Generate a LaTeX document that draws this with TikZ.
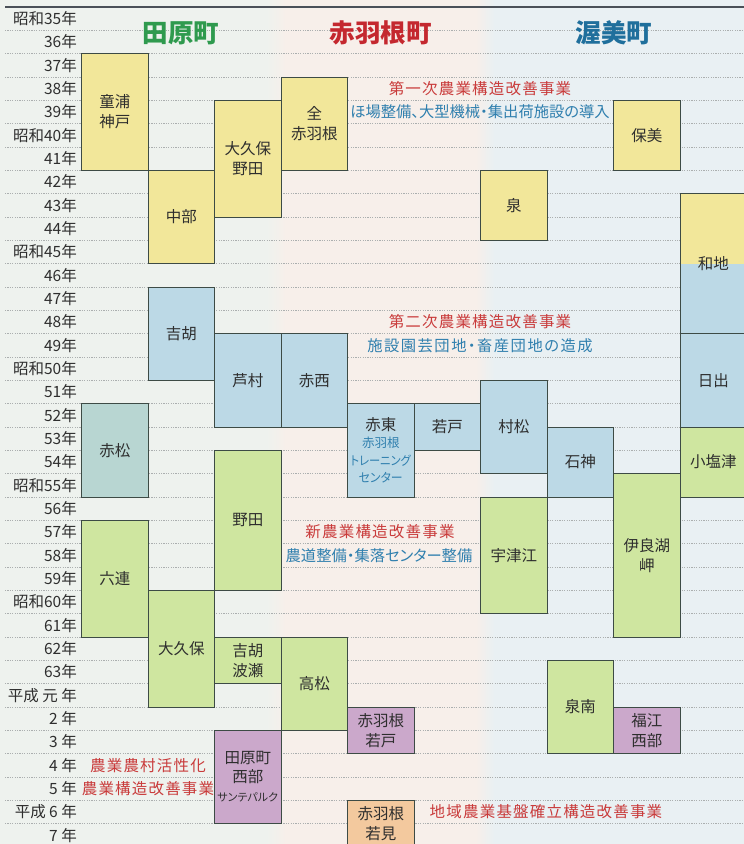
\documentclass[tikz,border=0pt]{standalone}
\usepackage{fontspec}
\usepackage{graphicx}
\setmainfont{Noto Sans CJK JP}
\newfontfamily\redfont[LetterSpace=7.7]{Noto Sans CJK JP}
\newfontfamily\pfont[RawFeature=+palt]{Noto Sans CJK JP}
\definecolor{bgL}{HTML}{EEF2EE}
\definecolor{bgM}{HTML}{F7EFEA}
\definecolor{bgR}{HTML}{E9F0F3}
\definecolor{yel}{HTML}{F2E79A}
\definecolor{blu}{HTML}{BCD9E6}
\definecolor{tealbox}{HTML}{B8D6D2}
\definecolor{grn}{HTML}{CFE6A0}
\definecolor{pur}{HTML}{CBA8CB}
\definecolor{org}{HTML}{F3C99E}
\definecolor{boxline}{HTML}{3D4B45}
\definecolor{boxtext}{HTML}{2E2E2E}
\definecolor{hgreen}{HTML}{2F9A4E}
\definecolor{hred}{HTML}{C4282F}
\definecolor{hblue}{HTML}{1F6F9C}
\definecolor{annred}{HTML}{C93B3B}
\definecolor{annblue}{HTML}{2F7FAE}
\definecolor{dotc}{HTML}{ABAFAF}
\definecolor{topc}{HTML}{4A5058}
\newcommand\mkbox[6]{\node[cell,fill=#5,minimum height={(#4-#3)*23.333pt}] (#1) at ({81.5+66.5*#2},{7+23.333*#3}) {#6};}
\begin{document}
\begin{tikzpicture}[x=1pt,y=-1pt,
  cell/.style={draw=boxline,line width=0.8pt,anchor=north west,outer sep=0pt,inner sep=0pt,minimum width=66.5pt,align=center,text=boxtext,font=\fontsize{15.5}{20}\selectfont},
  yl/.style={anchor=east,text=boxtext,font=\fontsize{15.5}{18}\selectfont,inner sep=0pt},
  hdr/.style={font=\bfseries\fontsize{25.5}{30}\selectfont},
  redann/.style={text=annred,font=\redfont\fontsize{15.5}{18}\selectfont,inner sep=0pt},
  bluann/.style={text=annblue,font=\pfont\fontsize{15.3}{18}\selectfont,inner sep=0pt},
  dotline/.style={dotc,line width=0.55pt,dash pattern=on 1.2pt off 1.2pt}]
\useasboundingbox (0,0) rectangle (744,844);
\begin{scope}
\clip (0,0) rectangle (744,844);
% background bands
\fill[bgL] (0,0) rectangle (266,844);
\shade[left color=bgL,right color=bgM] (266,0) rectangle (286,844);
\fill[bgM] (286,0) rectangle (476,844);
\shade[left color=bgM,right color=bgR] (476,0) rectangle (494,844);
\fill[bgR] (494,0) rectangle (744,844);
% grid lines
\foreach \k in {1,...,35} \draw[dotline] (5,{7+23.333*\k}) -- (744,{7+23.333*\k});
\draw[topc,line width=1.4pt] (5,7) -- (744,7);
% year labels
\foreach \lab [count=\i from 0] in {昭和35年,36年,37年,38年,39年,昭和40年,41年,42年,43年,44年,昭和45年,46年,47年,48年,49年,昭和50年,51年,52年,53年,54年,昭和55年,56年,57年,58年,59年,昭和60年,61年,62年,63年,平成 元 年,2 年,3 年,4 年,5 年,平成 6 年,7 年}
  \node[yl] (yr\i) at (77,{7+23.333*(\i+0.5)}) {\lab};
% headers
\node[hdr,text=hgreen] (h1) at (181,33) {田原町};
\node[hdr,text=hred] (h2) at (380.5,33) {赤羽根町};
\node[hdr,text=hblue] (h3) at (614,33) {渥美町};
% yellow
\mkbox{dora}{0}{2}{7}{yel}{童浦\\神戸}
\mkbox{chubu}{1}{7}{11}{yel}{中部}
\mkbox{okubonoda}{2}{4}{9}{yel}{大久保\\野田}
\mkbox{zenakabane}{3}{3}{7}{yel}{全\\赤羽根}
\mkbox{izumi}{6}{7}{10}{yel}{泉}
\mkbox{hobi}{8}{4}{7}{yel}{保美}
% wachi (split yellow / blue)
\fill[yel] (680,{7+23.333*8}) rectangle (747,{7+23.333*11});
\fill[blu] (680,{7+23.333*11}) rectangle (747,{7+23.333*14});
\node[cell,minimum height={6*23.333pt}] (wachi) at ({81.5+66.5*9},{7+23.333*8}) {和地};
% blue
\mkbox{yoshigo}{1}{12}{16}{blu}{吉胡}
\mkbox{ashimura}{2}{14}{18}{blu}{芦村}
\mkbox{akanishi}{3}{14}{18}{blu}{赤西}
\node[cell,fill=blu,minimum height={4*23.333pt},font=\pfont\fontsize{12.5}{17.5}\selectfont] (akahigashi) at ({81.5+66.5*4},{7+23.333*17})
  {{\fontsize{15.5}{18}\selectfont 赤東}\\{\color{annblue}赤羽根}\\{\color{annblue}\scalebox{0.9}[1]{トレーニング}}\\{\color{annblue}\scalebox{0.95}[1]{センター}}};
\mkbox{wakado}{5}{17}{19}{blu}{若戸}
\mkbox{muramatsu}{6}{16}{20}{blu}{村松}
\mkbox{ishigami}{7}{18}{21}{blu}{石神}
\mkbox{hiji}{9}{14}{18}{blu}{日出}
\mkbox{akamatsu}{0}{17}{21}{tealbox}{赤松}
% green
\mkbox{koshiozu}{9}{18}{21}{grn}{小塩津}
\mkbox{noda}{2}{19}{25}{grn}{野田}
\mkbox{mutsure}{0}{22}{27}{grn}{六連}
\mkbox{okubo}{1}{25}{30}{grn}{大久保}
\mkbox{yoshigohase}{2}{27}{29}{grn}{吉胡\\波瀬}
\mkbox{takamatsu}{3}{27}{31}{grn}{高松}
\mkbox{utsue}{6}{21}{26}{grn}{宇津江}
\mkbox{iragomisaki}{8}{20}{27}{grn}{伊良湖\\岬}
\mkbox{izuminami}{7}{28}{32}{grn}{泉南}
% purple
\mkbox{akabanewakado}{4}{30}{32}{pur}{赤羽根\\若戸}
\mkbox{fukuenishi}{8}{30}{32}{pur}{福江\\西部}
\node[cell,fill=pur,minimum height={4*23.333pt},font=\fontsize{15.5}{19}\selectfont] (taharaseibu) at ({81.5+66.5*2},{7+23.333*31})
  {田原町\\西部\\{\pfont\fontsize{11}{13}\selectfont サンテパルク}};
% orange
\mkbox{wakami}{4}{34}{36}{org}{赤羽根\\若見}
% annotations
\node[redann] (a1) at (480,88.3) {第一次農業構造改善事業};
\node[bluann] (a1b) at (480,111.7) {ほ場整備、大型機械・集出荷施設の導入};
\node[redann] (a2) at (480,322) {第二次農業構造改善事業};
\node[bluann] (a2b) at (480,345.3) {\addfontfeature{LetterSpace=9.7}施設園芸団地・畜産団地の造成};
\node[redann] (a3) at (380,532) {新農業構造改善事業};
\node[bluann] (a3b) at (379,555.3) {農道整備・集落センター整備};
\node[redann] (a4) at (148,765.3) {農業農村活性化};
\node[redann] (a4b) at (148,788.7) {農業構造改善事業};
\node[redann] (a5) at (546,812) {地域農業基盤確立構造改善事業};
\end{scope}
\end{tikzpicture}
\end{document}
